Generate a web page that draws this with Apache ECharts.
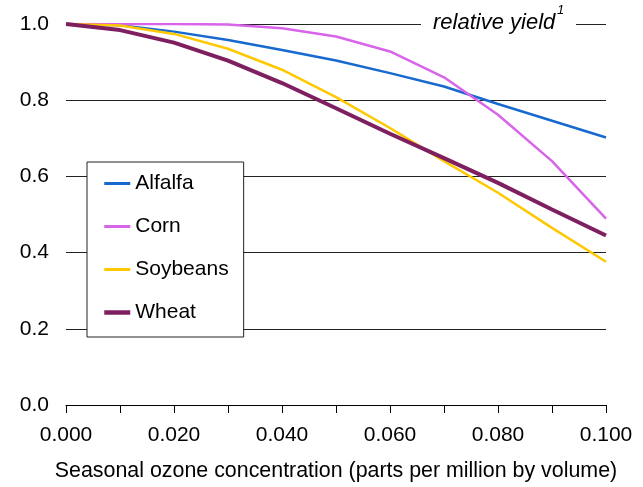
<!DOCTYPE html>
<html>
<head>
<meta charset="utf-8">
<script src="https://cdn.jsdelivr.net/npm/echarts@6/dist/echarts.min.js"></script>
<style>
html,body{margin:0;padding:0;background:#fff;}
#chart{width:643px;height:487px;}
</style>
</head>
<body>
<div id="chart"></div>
<script>
var ozone = [0.00, 0.01, 0.02, 0.03, 0.04, 0.05, 0.06, 0.07, 0.08, 0.09, 0.10];
var alfalfa  = [1.000, 0.997, 0.980, 0.958, 0.932, 0.904, 0.871, 0.836, 0.790, 0.746, 0.702];
var corn     = [1.000, 1.000, 1.000, 0.999, 0.989, 0.967, 0.928, 0.860, 0.762, 0.640, 0.489];
var soybeans = [1.000, 0.996, 0.974, 0.935, 0.880, 0.808, 0.727, 0.640, 0.557, 0.465, 0.376];
var wheat    = [1.000, 0.984, 0.951, 0.904, 0.845, 0.779, 0.712, 0.648, 0.583, 0.513, 0.445];
var seriesNames = ['Alfalfa', 'Corn', 'Soybeans', 'Wheat'];
var yAxisTitle = 'relative yield';
var yAxisNote = '1';
var xAxisTitle = 'Seasonal ozone concentration (parts per million by volume)';

function pairs(vals){ return ozone.map(function(x,i){ return [x, vals[i]]; }); }

var FONT = 'Liberation Sans, Arial, sans-serif';
var chart = echarts.init(document.getElementById('chart'), null, {renderer:'canvas'});
var colors = ['#1769CF', '#D864EA', '#FFC800', '#7E1F5F'];
var widths = [2.5, 2.5, 2.5, 4];
var datasets = [alfalfa, corn, soybeans, wheat];

chart.setOption({
  animation: false,
  backgroundColor: '#ffffff',
  textStyle: {fontFamily: FONT},
  grid: {left: 66, right: 37, top: 24, bottom: 82, containLabel: false},
  xAxis: {
    type: 'value', min: 0, max: 0.1, interval: 0.01,
    name: xAxisTitle, nameLocation: 'middle', nameGap: 56,
    nameTextStyle: {fontSize: 21.4, color: '#000', fontFamily: FONT},
    axisLine: {show: true, onZero: false, lineStyle: {color: '#000', width: 1}},
    axisTick: {show: true, length: 8, lineStyle: {color: '#000', width: 1}},
    axisLabel: {
      fontSize: 21, color: '#000', margin: 20, fontFamily: FONT,
      formatter: function(v){ return Math.round(v*100) % 2 === 0 ? v.toFixed(3) : ''; }
    },
    splitLine: {show: false}
  },
  yAxis: {
    type: 'value', min: 0, max: 1, interval: 0.2,
    axisLine: {show: false}, axisTick: {show: false},
    axisLabel: {fontSize: 21, color: '#000', margin: 17, fontFamily: FONT,
      formatter: function(v){ return v.toFixed(1); }},
    splitLine: {show: true, lineStyle: {color: '#222', width: 1}}
  },
  legend: {
    orient: 'vertical', left: 87, top: 162,
    padding: [11, 15, 14, 15],
    itemWidth: 26, itemHeight: 14, itemGap: 22,
    backgroundColor: '#fff', borderColor: '#222', borderWidth: 1,
    textStyle: {fontSize: 21, color: '#000', fontFamily: FONT},
    itemStyle: {opacity: 0},
    data: seriesNames.map(function(n, i){
      return {name: n, lineStyle: {width: i === 3 ? 4.5 : 3, color: colors[i]}};
    })
  },
  graphic: [
    {type: 'rect', left: 421, top: 14, shape: {width: 155, height: 20}, style: {fill: '#fff'}, z: 10},
    {type: 'text', left: 433, top: 12, z: 11,
      style: {text: yAxisTitle, font: 'italic 22px ' + FONT, fill: '#000'}},
    {type: 'text', left: 557, top: 4, z: 11,
      style: {text: yAxisNote, font: 'italic 13px ' + FONT, fill: '#000'}}
  ],
  series: seriesNames.map(function(n, i){
    return {
      name: n, type: 'line', data: pairs(datasets[i]),
      symbol: 'none', smooth: false,
      lineStyle: {color: colors[i], width: widths[i]},
      itemStyle: {color: colors[i]},
      z: 2 + (i === 3 ? 1 : 0)
    };
  })
});
</script>
</body>
</html>
